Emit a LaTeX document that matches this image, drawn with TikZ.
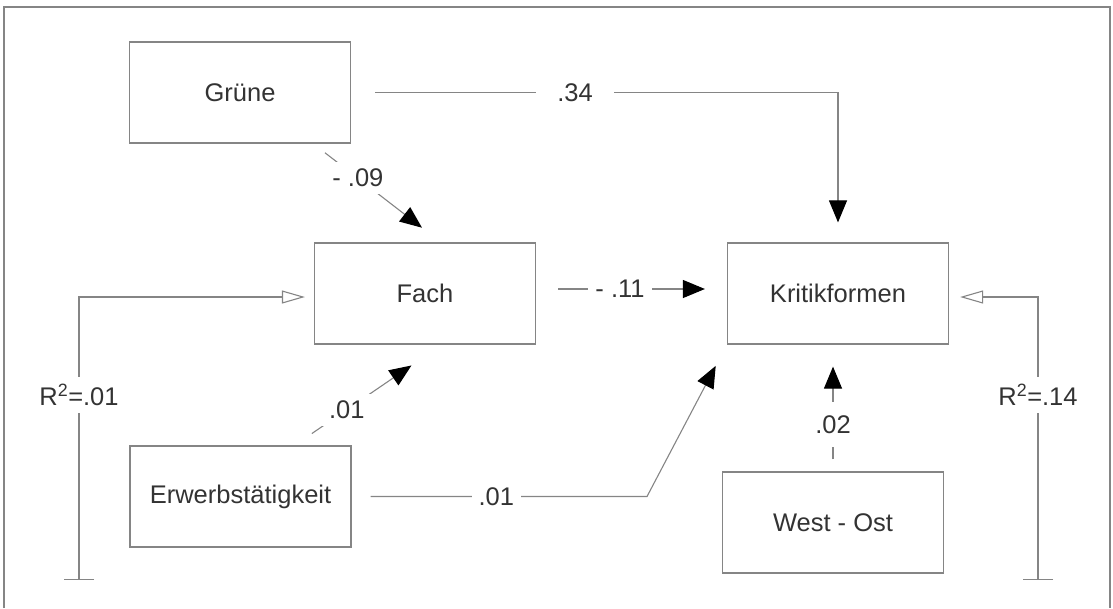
\documentclass[tikz,border=0pt]{standalone}
\usepackage{fontspec}
\setmainfont{Liberation Sans}
\usetikzlibrary{arrows.meta}
\definecolor{linegray}{gray}{0.52}
\definecolor{textgray}{gray}{0.2}
\tikzset{
    box/.style={draw=linegray, line width=1.2pt, minimum width=221pt, minimum height=101pt, text=textgray},
    conn/.style={draw=linegray, line width=1.1pt, -{Triangle[length=22pt, width=18pt, color=black]}},
    fb/.style={draw=linegray, line width=1.1pt, {Bar[width=30pt]}-{Triangle[open, length=23pt, width=13pt]}},
    coef/.style={fill=white, text=textgray, inner sep=7pt},
}

\begin{document}
\begin{tikzpicture}[x=1pt, y=-1pt, every node/.style={font=\fontsize{25.5}{30}\selectfont}]
    \newcommand\posL{240}
    \newcommand\posM{425}
    \newcommand\posR{838}
    \newcommand\rowT{92.5}
    \newcommand\rowM{293.5}
    \newcommand\rowB{496.5}

    \useasboundingbox (0,0) rectangle (1113,608);
    \draw[linegray, line width=1.5pt] (4,608) -- (4,7) -- (1110,7) -- (1110,608);

    \node[box] (gruene) at (\posL, \rowT) {Grüne};
    \node[box] (fach) at (\posM, \rowM) {Fach};
    \node[box] (kritik) at (\posR, \rowM) {Kritikformen};
    \node[box] (erwerb) at (\posL + 0.5, \rowB) {Erwerbstätigkeit};
    \node[box] (westost) at (\posR - 5, \rowB + 26) {West - Ost};

    \coordinate (bend) at (647, \rowB);
    \coordinate (barL) at (79, 580);
    \coordinate (barR) at (1038, 580);

    % paths into Kritikformen
    \draw[conn, shorten <=24pt, shorten >=20pt] (gruene.east) -| node[coef, pos=0.23, inner xsep=21pt] {.34} (kritik.north);
    \draw[conn, shorten <=22pt, shorten >=22pt] ([yshift=4.5pt]fach.east) -- node[coef, pos=0.44] {- .11} ([yshift=4.5pt]fach.east -| kritik.west);
    \draw[conn, shorten <=19pt, shorten >=24pt] (erwerb.east) -- node[coef, pos=0.49] {.01} (bend) -- (kritik.south west);
    \draw[conn, shorten <=12pt, shorten >=22pt] (westost.north) -- node[coef, pos=0.37, inner ysep=13pt] {.02} (westost.north |- kritik.south);

    % paths into Fach
    \draw[conn, shorten <=15pt, shorten >=24pt] ([xshift=-38pt]gruene.south east) -- node[coef, pos=0.35] {- .09} ([xshift=16pt]fach.north);
    \draw[conn, shorten <=21pt, shorten >=37pt] ([xshift=54pt]erwerb.north) -- node[coef, pos=0.355] {.01} ([xshift=17pt]fach.south);

    % residuals
    \draw[fb, shorten >=9pt] (barL) |- node[coef, pos=0.327] {R\textsuperscript{2}=.01} ([yshift=-3.5pt]fach.west);
    \draw[fb, shorten >=11pt] (barR) |- node[coef, pos=0.327] {R\textsuperscript{2}=.14} ([yshift=-3.5pt]kritik.east);
\end{tikzpicture}
\end{document}
